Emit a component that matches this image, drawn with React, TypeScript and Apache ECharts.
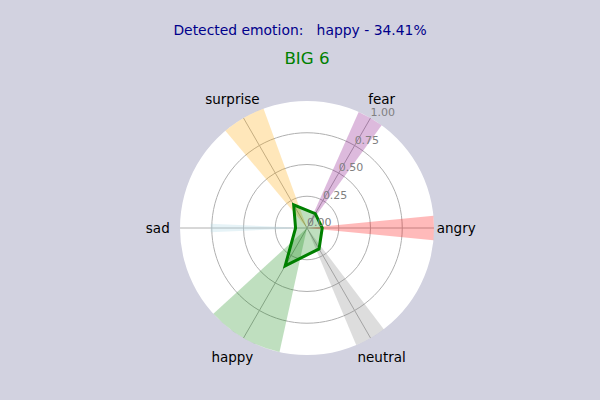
import React, { useEffect, useRef } from 'react';
import * as echarts from 'echarts';

const categories = ['angry', 'fear', 'surprise', 'sad', 'happy', 'neutral'];
const thetas = [0, 60, 120, 180, 240, 300];
const scores = [0.12, 0.13, 0.21, 0.09, 0.3441, 0.19];
const wedgeWidths = [11, 12, 20, 5, 35, 14.4];
const wedgeHeights = [1, 1, 1, 0.76, 1, 1];
const wedgeColors = [
  'rgba(255,0,0,0.27)',
  'rgba(128,0,128,0.27)',
  'rgba(255,165,0,0.27)',
  'rgba(173,216,230,0.3)',
  'rgba(0,128,0,0.25)',
  'rgba(128,128,128,0.27)',
];
const radiusMin = 0;
const radiusMax = 1;
const radiusStep = 0.25;
const labelRadius = 1.175;
const titleText = 'Detected emotion:   happy - 34.41%';
const subtitleText = 'BIG 6';

const FONT = 'DejaVu Sans';
const GRID = '#b0b0b0';

const hidden = {
  axisLine: { show: false },
  axisTick: { show: false },
  axisLabel: { show: false },
  splitLine: { show: false },
  splitArea: { show: false },
};

export default function App() {
  const ref = useRef<HTMLDivElement>(null);
  useEffect(() => {
    if (!ref.current) return;
    const chart = echarts.init(ref.current, undefined, { renderer: 'svg' });
    const option: any = {
      animation: false,
      backgroundColor: '#d2d2e0',
      textStyle: { fontFamily: FONT },
      title: [
        {
          text: titleText,
          left: 'center',
          top: 22,
          padding: 0,
          textStyle: { color: '#00008b', fontSize: 13.9, fontWeight: 'normal', fontFamily: FONT, lineHeight: 16 },
        },
        {
          text: subtitleText,
          left: 307,
          textAlign: 'center',
          top: 48,
          padding: 0,
          textStyle: { color: '#008000', fontSize: 16.7, fontWeight: 'normal', fontFamily: FONT, lineHeight: 20 },
        },
      ],
      polar: [
        { center: [307, 228], radius: 127 },
        { center: [307, 228], radius: 127 },
        { center: [307, 228], radius: 127 },
      ],
      angleAxis: [
        {
          polarIndex: 0,
          type: 'value',
          min: 0,
          max: 360,
          interval: 60,
          startAngle: 0,
          clockwise: false,
          z: 0,
          ...hidden,
          splitArea: { show: true, areaStyle: { color: ['#ffffff'] } },
        },
        {
          polarIndex: 1,
          type: 'value',
          min: 60,
          max: 420,
          interval: 60,
          startAngle: 60,
          clockwise: false,
          z: 1,
          ...hidden,
          splitLine: { show: true, lineStyle: { color: GRID, width: 1 } },
        },
        {
          polarIndex: 2,
          type: 'value',
          min: 60,
          max: 420,
          interval: 60,
          startAngle: 60,
          clockwise: false,
          z: 6,
          ...hidden,
        },
      ],
      radiusAxis: [
        {
          polarIndex: 0,
          type: 'value',
          min: radiusMin,
          max: radiusMax,
          interval: radiusStep,
          z: 0,
          ...hidden,
        },
        {
          polarIndex: 1,
          type: 'value',
          min: radiusMin,
          max: radiusMax,
          interval: radiusStep,
          z: 1,
          ...hidden,
          splitLine: {
            show: true,
            lineStyle: { color: [GRID, GRID, GRID, GRID, 'rgba(0,0,0,0)'], width: 1 },
          },
        },
        {
          polarIndex: 2,
          type: 'value',
          min: radiusMin,
          max: radiusMax,
          interval: radiusStep,
          z: 6,
          ...hidden,
          axisLabel: {
            show: true,
            margin: 0,
            align: 'left',
            verticalAlign: 'bottom',
            formatter: (v: number) => v.toFixed(2),
            color: '#808080',
            fontSize: 11,
            fontFamily: FONT,
          },
        },
      ],
      series: [
        {
          type: 'custom',
          coordinateSystem: 'polar',
          polarIndex: 1,
          data: categories.map((_, i) => [wedgeHeights[i], thetas[i], wedgeWidths[i]]),
          renderItem: (params: any, api: any) => {
            const i = params.dataIndex;
            const h = api.value(0);
            const th = api.value(1);
            const w = api.value(2);
            const c = api.coord([0, th]);
            const pA = api.coord([h, th - w / 2]);
            const pB = api.coord([h, th + w / 2]);
            const r = Math.hypot(pA[0] - c[0], pA[1] - c[1]);
            const a1 = Math.atan2(pA[1] - c[1], pA[0] - c[0]);
            const a2 = Math.atan2(pB[1] - c[1], pB[0] - c[0]);
            let start = a2;
            let end = a1;
            if (end < start) end += Math.PI * 2;
            return {
              type: 'sector',
              shape: { cx: c[0], cy: c[1], r0: 0, r, startAngle: start, endAngle: end, clockwise: true },
              style: { fill: wedgeColors[i] },
            };
          },
          z: 2,
        },
        {
          type: 'custom',
          coordinateSystem: 'polar',
          polarIndex: 1,
          data: scores.map((s, i) => [s, thetas[i]]),
          renderItem: (params: any, api: any) => {
            if (params.dataIndex !== 0) return null;
            const pts = scores.map((s, i) => {
              const p = api.coord([s, thetas[i]]);
              return [p[0], p[1]];
            });
            return {
              type: 'polygon',
              shape: { points: pts },
              style: { fill: 'rgba(0,128,0,0.25)', stroke: '#008000', lineWidth: 3, lineJoin: 'miter' },
            };
          },
          z: 3,
        },
        {
          type: 'custom',
          coordinateSystem: 'polar',
          polarIndex: 1,
          data: categories.map((_, i) => [labelRadius, thetas[i]]),
          renderItem: (params: any, api: any) => {
            const i = params.dataIndex;
            const p = api.coord([api.value(0), api.value(1)]);
            return {
              type: 'text',
              x: p[0],
              y: p[1],
              style: {
                text: categories[i],
                fill: '#000000',
                fontSize: 13.5,
                fontFamily: FONT,
                align: 'center',
                verticalAlign: 'middle',
              },
            };
          },
          z: 4,
        },
      ],
    };
    chart.setOption(option);
    return () => chart.dispose();
  }, []);
  return <div ref={ref} style={{ position: 'fixed', left: 0, top: 0, width: 600, height: 400 }} />;
}
